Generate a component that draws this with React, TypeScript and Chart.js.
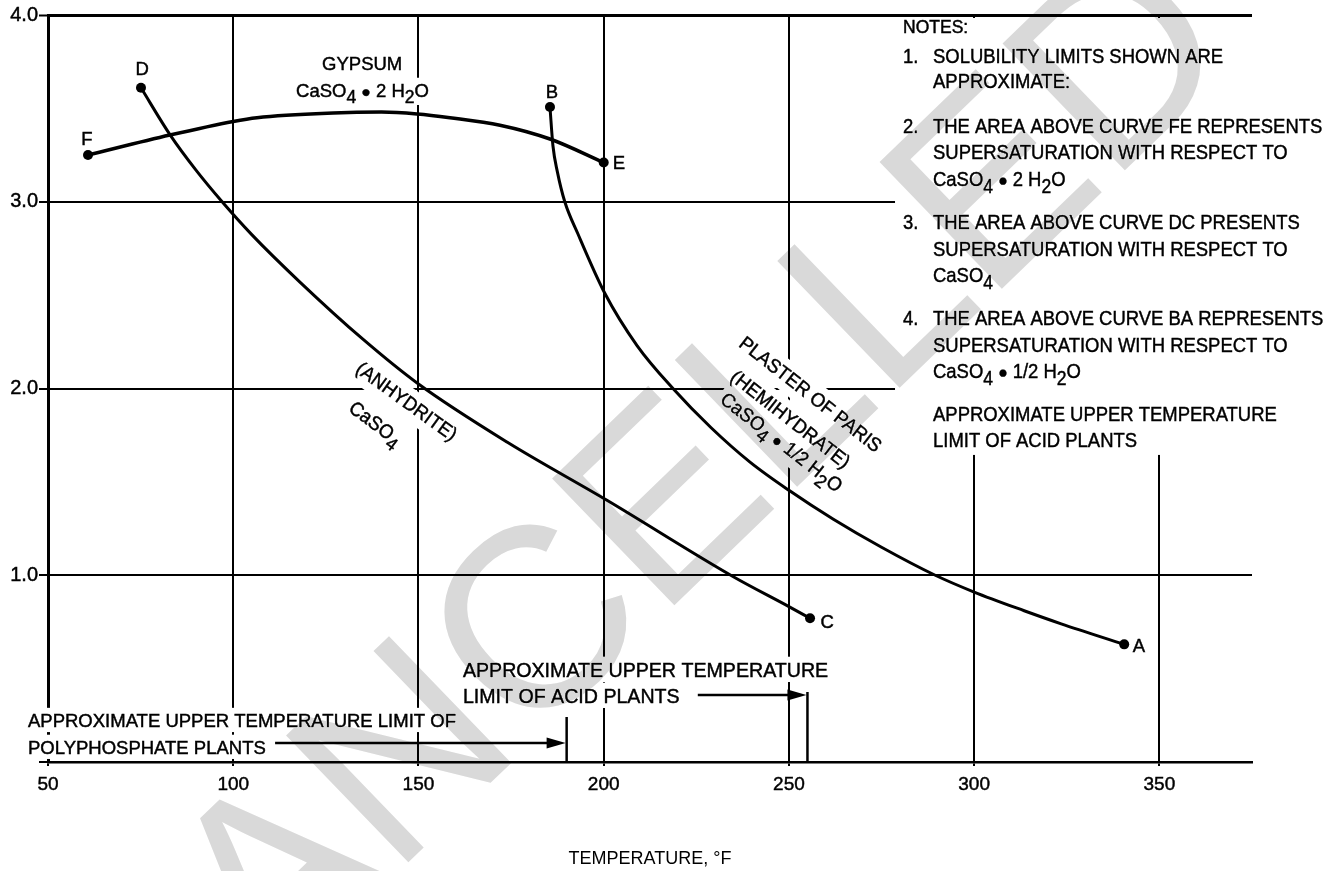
import React, { useEffect, useRef } from 'react';
import { Chart, registerables } from 'chart.js';

Chart.register(...registerables);

const FAMILY = '"Liberation Sans", Arial, Helvetica, sans-serif';

// ---------------- data ----------------
const X_TICKS = [50, 100, 150, 200, 250, 300, 350];
const X_MIN = 50;
const X_MAX = 375;
const Y_TICKS = [0, 1, 2, 3, 4];
const Y_TICK_LABELS = ['', '1.0', '2.0', '3.0', '4.0'];

// Gypsum CaSO4·2H2O  (curve F -> E)
const GYPSUM_T = [60.8, 82.9, 100, 106.4, 127, 140, 149.6, 158.5, 172, 185.5, 200];
const GYPSUM_S = [3.25, 3.357, 3.43, 3.45, 3.475, 3.48, 3.47, 3.45, 3.41, 3.336, 3.21];

// Anhydrite CaSO4  (curve D -> C)
const ANHYDRITE_T = [75.1, 83, 90, 97, 105, 118, 135, 150, 174, 201, 235, 250, 255.7];
const ANHYDRITE_S = [3.61, 3.357, 3.168, 3.0, 2.824, 2.57, 2.264, 2.024, 1.712, 1.4, 0.992, 0.832, 0.77];

// Hemihydrate CaSO4·1/2H2O  (curve B -> A)
const HEMI_T = [185.5, 186.3, 187.5, 189.5, 193, 200.3, 209, 218.7, 229, 239.5, 250, 262, 275, 289.5, 300, 313.5, 323.5, 340.5];
const HEMI_S = [3.507, 3.3, 3.16, 3.0, 2.83, 2.51, 2.23, 2.0, 1.79, 1.606, 1.455, 1.3, 1.15, 1.0, 0.91, 0.81, 0.74, 0.63];

const POLY_LIMIT_T = 190;
const ACID_LIMIT_T = 255;

// ---------------- annotation layout (data coordinates) ----------------
const POINT_LABELS = [
  { text: 'F', x: 60.5, y: 3.34 },
  { text: 'D', x: 75.4, y: 3.716 },
  { text: 'B', x: 186.0, y: 3.593 },
  { text: 'E', x: 204.1, y: 3.213 },
  { text: 'C', x: 260.3, y: 0.755 },
  { text: 'A', x: 344.5, y: 0.627 },
];

// centred, y = baseline
const CENTER_LABELS = [
  { text: 'GYPSUM', x: 134.8, y: 3.705, size: 18.5, sx: 1 },
  { text: 'CaSO_4 ● 2 H_2O', x: 134.9, y: 3.561, size: 18.5, sx: 1 },
];

// centred at (x,y), rotated (degrees)
const ROTATED_LABELS = [
  { text: '(ANHYDRITE)', x: 146.9, y: 1.933, angle: 36, size: 19.5, sx: 0.95 },
  { text: 'CaSO_4', x: 138.5, y: 1.815, angle: 37, size: 19.5, sx: 0.95 },
  { text: 'PLASTER OF PARIS', x: 255.9, y: 1.971, angle: 38, size: 19.5, sx: 0.95 },
  { text: '(HEMIHYDRATE)', x: 250.5, y: 1.837, angle: 38, size: 19.5, sx: 0.95 },
  { text: 'CaSO_4 ● 1/2 H_2O', x: 248.1, y: 1.714, angle: 38, size: 19.5, sx: 0.95 },
];

// left aligned, y = baseline
const LEFT_LABELS = [
  { text: 'APPROXIMATE UPPER TEMPERATURE', x: 162.0, y: 0.455, size: 20, sx: 0.98 },
  { text: 'LIMIT OF ACID PLANTS', x: 162.0, y: 0.316, size: 20, sx: 0.98 },
  { text: 'APPROXIMATE UPPER TEMPERATURE LIMIT OF', x: 44.6, y: 0.187, size: 18.5, sx: 1 },
  { text: 'POLYPHOSPHATE PLANTS', x: 44.6, y: 0.043, size: 18.5, sx: 1 },
];

const ACID_ARROW = { from: 225.4, y: 0.359, barTop: 0.375 };
const POLY_ARROW = { from: 111.3, y: 0.102, barTop: 0.241 };

const NOTES_ANCHOR = { x: 280.8, y: 3.904 };
const NOTE_SIZE = 20.5;
const NOTE_SX = 0.9;
const NOTES = [
  { num: '', text: 'NOTES:', dy: 0, size: 17.5, sx: 1, indent: 0 },
  { num: '1.', text: 'SOLUBILITY LIMITS SHOWN ARE', dy: 30, size: NOTE_SIZE, sx: NOTE_SX, indent: 30 },
  { num: '', text: 'APPROXIMATE:', dy: 55, size: NOTE_SIZE, sx: NOTE_SX, indent: 30 },
  { num: '2.', text: 'THE AREA ABOVE CURVE FE REPRESENTS', dy: 100, size: NOTE_SIZE, sx: NOTE_SX, indent: 30 },
  { num: '', text: 'SUPERSATURATION WITH RESPECT TO', dy: 126, size: NOTE_SIZE, sx: NOTE_SX, indent: 30 },
  { num: '', text: 'CaSO_4 ● 2 H_2O', dy: 153, size: NOTE_SIZE, sx: NOTE_SX, indent: 30 },
  { num: '3.', text: 'THE AREA ABOVE CURVE DC PRESENTS', dy: 196, size: NOTE_SIZE, sx: NOTE_SX, indent: 30 },
  { num: '', text: 'SUPERSATURATION WITH RESPECT TO', dy: 223, size: NOTE_SIZE, sx: NOTE_SX, indent: 30 },
  { num: '', text: 'CaSO_4', dy: 249, size: NOTE_SIZE, sx: NOTE_SX, indent: 30 },
  { num: '4.', text: 'THE AREA ABOVE CURVE BA REPRESENTS', dy: 292, size: NOTE_SIZE, sx: NOTE_SX, indent: 30 },
  { num: '', text: 'SUPERSATURATION WITH RESPECT TO', dy: 319, size: NOTE_SIZE, sx: NOTE_SX, indent: 30 },
  { num: '', text: 'CaSO_4 ● 1/2 H_2O', dy: 345, size: NOTE_SIZE, sx: NOTE_SX, indent: 30 },
  { num: '', text: 'APPROXIMATE UPPER TEMPERATURE', dy: 388, size: NOTE_SIZE, sx: NOTE_SX, indent: 30 },
  { num: '', text: 'LIMIT OF ACID PLANTS', dy: 414, size: NOTE_SIZE, sx: NOTE_SX, indent: 30 },
];

const WATERMARK = { text: 'CANCELLED', x: 223.3, y: 0.921, angle: -44, size: 256, color: '#d9d9d9' };

const TEXT_STROKE = 0.45;

// ---------------- rich text helpers ----------------
type Seg = { t: string; kind: 'n' | 'sub' | 'dot' };

function parseRich(s: string): Seg[] {
  const segs: Seg[] = [];
  let buf = '';
  for (let i = 0; i < s.length; i++) {
    const c = s[i];
    if (c === '_' && i + 1 < s.length) {
      if (buf) segs.push({ t: buf, kind: 'n' });
      buf = '';
      segs.push({ t: s[i + 1], kind: 'sub' });
      i++;
    } else if (c === '●') {
      if (buf) segs.push({ t: buf, kind: 'n' });
      buf = '';
      segs.push({ t: c, kind: 'dot' });
    } else buf += c;
  }
  if (buf) segs.push({ t: buf, kind: 'n' });
  return segs;
}

function segSize(kind: Seg['kind'], size: number) {
  return kind === 'sub' ? size * 0.95 : kind === 'dot' ? size * 0.85 : size;
}
function segDy(kind: Seg['kind'], size: number) {
  return kind === 'sub' ? size * 0.33 : kind === 'dot' ? size * 0.02 : 0;
}
function richWidth(ctx: CanvasRenderingContext2D, segs: Seg[], size: number, sx = 1) {
  let w = 0;
  for (const s of segs) {
    ctx.font = `${segSize(s.kind, size)}px ${FAMILY}`;
    w += ctx.measureText(s.t).width;
  }
  return w * sx;
}
function drawRich(ctx: CanvasRenderingContext2D, segs: Seg[], x: number, y: number, size: number, sx = 1) {
  ctx.save();
  ctx.translate(x, y);
  ctx.scale(sx, 1);
  ctx.textAlign = 'left';
  ctx.textBaseline = 'alphabetic';
  ctx.lineWidth = TEXT_STROKE;
  ctx.strokeStyle = '#000';
  let cx = 0;
  for (const s of segs) {
    ctx.font = `${segSize(s.kind, size)}px ${FAMILY}`;
    const dy = segDy(s.kind, size);
    ctx.fillText(s.t, cx, dy);
    ctx.strokeText(s.t, cx, dy);
    cx += ctx.measureText(s.t).width;
  }
  ctx.restore();
}

const annotPlugin = {
  id: 'annot',
  beforeDatasetsDraw(chart: any) {
    const { ctx, chartArea } = chart;
    const xs = chart.scales.x;
    const ys = chart.scales.y;
    const px = (v: number) => xs.getPixelForValue(v);
    const py = (v: number) => ys.getPixelForValue(v);
    const cap = (size: number) => size * 0.716;

    ctx.save();
    // ---- white backgrounds (they interrupt the grid like the original) ----
    ctx.fillStyle = '#fff';
    const nx = px(NOTES_ANCHOR.x);
    const ny = py(NOTES_ANCHOR.y);
    const lastDy = NOTES[NOTES.length - 1].dy;
    ctx.fillRect(nx - 8, chartArea.top + 3, chart.width - (nx - 8), ny + lastDy + 8 - (chartArea.top + 3));

    for (const l of CENTER_LABELS) {
      const segs = parseRich(l.text);
      const w = richWidth(ctx, segs, l.size, l.sx);
      const bx = px(l.x) - w / 2;
      const by = py(l.y);
      ctx.fillRect(bx - 4, by - cap(l.size) - 6, w + 8, cap(l.size) + 14);
    }
    for (const l of LEFT_LABELS) {
      const segs = parseRich(l.text);
      const w = richWidth(ctx, segs, l.size, l.sx);
      const bx = px(l.x);
      const by = py(l.y);
      ctx.fillRect(bx - 4, by - cap(l.size) - 6, w + 8, cap(l.size) + 11);
    }
    for (const l of ROTATED_LABELS) {
      const segs = parseRich(l.text);
      const w = richWidth(ctx, segs, l.size, l.sx);
      ctx.save();
      ctx.translate(px(l.x), py(l.y));
      ctx.rotate((l.angle * Math.PI) / 180);
      ctx.fillRect(-w / 2 - 4, -cap(l.size) / 2 - 7, w + 8, cap(l.size) + 16);
      ctx.restore();
    }

    // ---- texts ----
    ctx.fillStyle = '#000';
    for (const l of POINT_LABELS) {
      const segs = parseRich(l.text);
      const w = richWidth(ctx, segs, 18.5);
      drawRich(ctx, segs, px(l.x) - w / 2, py(l.y) + cap(18.5) / 2, 18.5);
    }
    for (const l of CENTER_LABELS) {
      const segs = parseRich(l.text);
      const w = richWidth(ctx, segs, l.size, l.sx);
      drawRich(ctx, segs, px(l.x) - w / 2, py(l.y), l.size, l.sx);
    }
    for (const l of LEFT_LABELS) {
      drawRich(ctx, parseRich(l.text), px(l.x), py(l.y), l.size, l.sx);
    }
    for (const l of ROTATED_LABELS) {
      const segs = parseRich(l.text);
      const w = richWidth(ctx, segs, l.size, l.sx);
      ctx.save();
      ctx.translate(px(l.x), py(l.y));
      ctx.rotate((l.angle * Math.PI) / 180);
      drawRich(ctx, segs, -w / 2, cap(l.size) / 2, l.size, l.sx);
      ctx.restore();
    }
    for (const n of NOTES) {
      const by = ny + n.dy;
      if (n.num) drawRich(ctx, parseRich(n.num), nx, by, n.size, n.sx);
      drawRich(ctx, parseRich(n.text), nx + n.indent, by, n.size, n.sx);
    }

    // ---- arrows & limit bars ----
    ctx.strokeStyle = '#000';
    ctx.fillStyle = '#000';
    ctx.lineWidth = 2.5;
    const drawArrow = (a: { from: number; y: number; barTop: number }, limit: number) => {
      const x0 = px(a.from);
      const x1 = px(limit) - 1;
      const y = py(a.y);
      const head = 19;
      ctx.beginPath();
      ctx.moveTo(x0, y);
      ctx.lineTo(x1 - head + 2, y);
      ctx.stroke();
      ctx.beginPath();
      ctx.moveTo(x1, y);
      ctx.lineTo(x1 - head, y - 5.5);
      ctx.lineTo(x1 - head, y + 5.5);
      ctx.closePath();
      ctx.fill();
      ctx.beginPath();
      ctx.moveTo(px(limit), py(a.barTop));
      ctx.lineTo(px(limit), py(0));
      ctx.stroke();
    };
    drawArrow(ACID_ARROW, ACID_LIMIT_T);
    drawArrow(POLY_ARROW, POLY_LIMIT_T);
    ctx.restore();
  },
  afterDraw(chart: any) {
    const { ctx } = chart;
    const xs = chart.scales.x;
    const ys = chart.scales.y;
    ctx.save();
    ctx.globalCompositeOperation = 'darken';
    ctx.fillStyle = WATERMARK.color;
    ctx.translate(xs.getPixelForValue(WATERMARK.x), ys.getPixelForValue(WATERMARK.y));
    ctx.rotate((WATERMARK.angle * Math.PI) / 180);
    ctx.font = `${WATERMARK.size}px ${FAMILY}`;
    ctx.textAlign = 'center';
    ctx.textBaseline = 'alphabetic';
    ctx.fillText(WATERMARK.text, 0, 0);
    ctx.restore();
  },
};

function mkCurve(label: string, xs: number[], ys: number[], width: number) {
  const n = xs.length;
  return {
    label,
    data: xs.map((x, i) => ({ x, y: ys[i] })),
    showLine: true,
    borderColor: '#000',
    backgroundColor: '#000',
    borderWidth: width,
    pointRadius: (c: any) => (c.dataIndex === 0 || c.dataIndex === n - 1 ? 5 : 0),
    pointHoverRadius: 0,
    pointBackgroundColor: '#000',
    pointBorderWidth: 0,
    cubicInterpolationMode: 'monotone' as const,
    fill: false,
    clip: false as any,
  };
}

export default function App() {
  const ref = useRef<HTMLCanvasElement>(null);
  useEffect(() => {
    const canvas = ref.current;
    if (!canvas) return;
    const chart = new Chart(canvas, {
      type: 'scatter',
      data: {
        datasets: [
          mkCurve('Gypsum CaSO4·2H2O (F–E)', GYPSUM_T, GYPSUM_S, 3.5),
          mkCurve('Anhydrite CaSO4 (D–C)', ANHYDRITE_T, ANHYDRITE_S, 3),
          mkCurve('Hemihydrate CaSO4·1/2H2O (B–A)', HEMI_T, HEMI_S, 3),
        ] as any,
      },
      options: {
        responsive: true,
        maintainAspectRatio: false,
        animation: false,
        devicePixelRatio: 1,
        events: [],
        layout: { padding: { left: 8, top: 15, right: 89, bottom: 0 } },
        plugins: { legend: { display: false }, tooltip: { enabled: false } },
        scales: {
          x: {
            type: 'linear',
            min: X_MIN,
            max: X_MAX,
            afterBuildTicks: (s: any) => {
              s.ticks = X_TICKS.map((value) => ({ value }));
            },
            afterFit: (s: any) => {
              s.height = 109;
            },
            ticks: {
              color: '#000',
              font: { family: FAMILY, size: 19 },
              padding: 7,
              maxRotation: 0,
              autoSkip: false,
              textStrokeColor: '#000',
              textStrokeWidth: 0.45,
              callback: (v: any) => String(v),
            },
            grid: { color: '#000', lineWidth: 2, tickLength: 4, tickColor: '#000', tickWidth: 2 },
            border: { display: true, color: '#000', width: 2.5 },
            title: {
              display: true,
              text: 'TEMPERATURE, °F',
              color: '#000',
              font: { family: FAMILY, size: 18 },
              padding: { top: 0, bottom: 1 },
            },
          },
          y: {
            type: 'linear',
            min: 0,
            max: 4,
            afterBuildTicks: (s: any) => {
              s.ticks = Y_TICKS.map((value) => ({ value }));
            },
            afterFit: (s: any) => {
              s.width = 40;
            },
            ticks: {
              color: '#000',
              font: { family: FAMILY, size: 20 },
              padding: 1,
              textStrokeColor: '#000',
              textStrokeWidth: 0.45,
              callback: (v: any) => Y_TICK_LABELS[Y_TICKS.indexOf(Number(v))] ?? '',
            },
            grid: {
              color: '#000',
              lineWidth: (c: any) => (c.tick && c.tick.value === 4 ? 3 : 2),
              tickLength: 9,
              tickColor: '#000',
              tickWidth: 2,
            },
            border: { display: true, color: '#000', width: 3 },
          },
        },
      } as any,
      plugins: [annotPlugin as any],
    });
    return () => chart.destroy();
  }, []);
  return (
    <div style={{ position: 'fixed', left: 0, top: 0, width: 1341, height: 871, background: '#fff' }}>
      <canvas ref={ref} />
    </div>
  );
}
